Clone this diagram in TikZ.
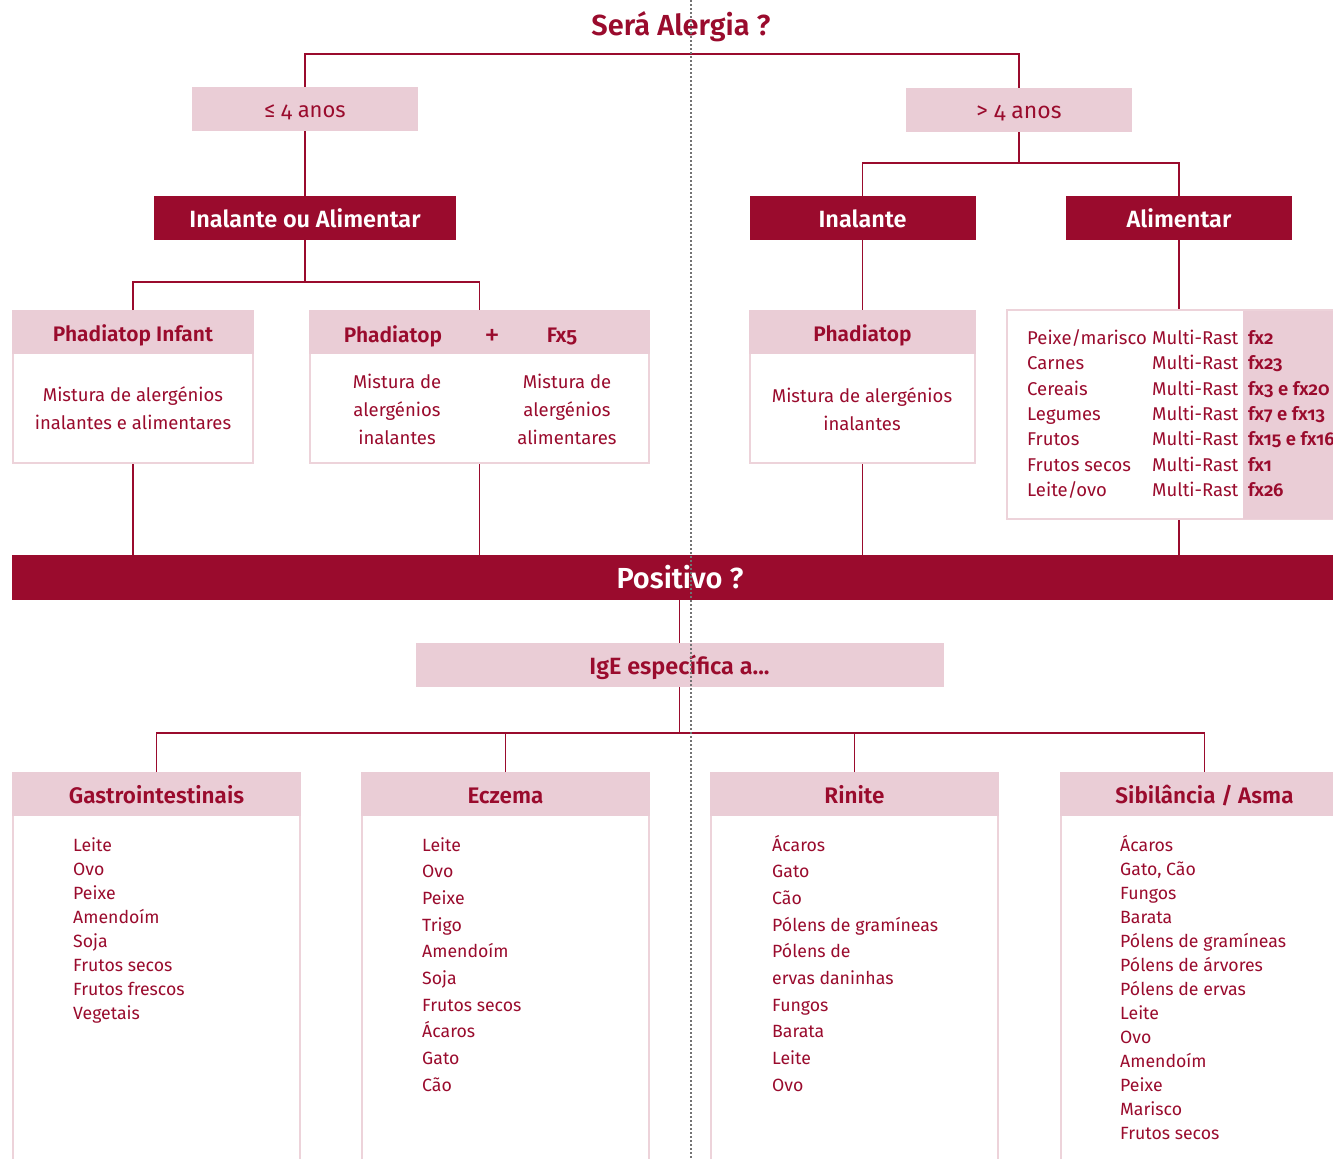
\documentclass[tikz,border=0pt]{standalone}
\usepackage{fontspec}
\setmainfont{Fira Sans}[Numbers=OldStyle, BoldFont={Fira Sans SemiBold}]
\definecolor{dred}{HTML}{9A0B2D}
\definecolor{lpink}{HTML}{EACDD6}
\definecolor{bpink}{HTML}{EDD3DA}
\begin{document}
\begin{tikzpicture}[x=1pt,y=-1pt,
  conn/.style={draw=dred, line width=1.3pt},
  pinkbox/.style={fill=lpink, text=dred, inner sep=0pt, text height=19pt, text depth=0pt, font=\bfseries\fontsize{21}{24}\selectfont},
  redbox/.style={fill=dred, text=white, inner sep=0pt, text height=19pt, text depth=0pt, font=\bfseries\fontsize{23.5}{26}\selectfont},
  agebox/.style={fill=lpink, text=dred, inner sep=0pt, text height=18pt, text depth=2pt, minimum width=226, minimum height=44},
  frame/.style={draw=bpink, line width=2pt, fill=white, inner sep=0pt},
  body/.style={text=dred, align=center, inner sep=0pt, font=\fontsize{18.5}{28}\selectfont},
  item/.style={text=dred, inner sep=0pt, anchor=base west, font=\fontsize{17.7}{22}\selectfont},
  hdtext/.style={text=dred, inner sep=0pt, text height=19pt, text depth=0pt, font=\bfseries\fontsize{21}{24}\selectfont},
  bhead/.style={pinkbox, minimum width=289, minimum height=44, anchor=north, font=\bfseries\fontsize{22.5}{26}\selectfont},
]
\clip (0,0) rectangle (1333,1159);
\fill[white] (0,0) rectangle (1333,1159);

% title
\node[text=dred, inner sep=0pt, font=\bfseries\fontsize{29}{34}\selectfont] (title) at (681,27) {Será Alergia ?};

% age boxes
\node[agebox, font=\fontsize{22}{24}\selectfont] (le4) at (305,109) {≤ 4 anos};
\node[agebox, font=\fontsize{23}{24}\selectfont] (gt4) at (1019,110) {> 4 anos};
\coordinate (topbar) at (662,54);
\draw[conn] (le4.north) |- (topbar) -| (gt4.north);

% second level
\node[redbox, minimum width=302, minimum height=44] (ioa) at (305,218) {Inalante ou Alimentar};
\node[redbox, minimum width=226, minimum height=44] (inal) at (862.5,218) {Inalante};
\node[redbox, minimum width=226, minimum height=44] (alim) at (1179,218) {Alimentar};
\draw[conn] (le4.south) -- (ioa.north);
\coordinate (gsplit) at (1019,163);
\draw[conn] (gt4.south) -- (gsplit);
\draw[conn] (inal.north) |- (gsplit) -| (alim.north);

% Phadiatop Infant
\node[frame, minimum width=240, minimum height=152] (pi) at (133,387) {};
\node[pinkbox, minimum width=242, minimum height=44, anchor=north] (pih) at (pi.north) {Phadiatop Infant};
\node[body] (pit) at (133,408) {Mistura de alergénios\\inalantes e alimentares};

% Phadiatop + Fx5
\node[frame, minimum width=339, minimum height=152] (pf) at (479.5,387) {};
\node[pinkbox, minimum width=341, minimum height=44, anchor=north] (pfh) at (pf.north) {};
\node[hdtext] (pfa) at (393,333) {Phadiatop};
\node[text=dred, inner sep=0pt, font=\fontsize{31}{32}\selectfont] (pfp) at (492,337.5) {+};
\node[hdtext] (pfb) at (562,333) {Fx5};
\node[body] (pft1) at (397,409) {Mistura de\\alergénios\\inalantes};
\node[body] (pft2) at (567,409) {Mistura de\\alergénios\\alimentares};

\coordinate (isplit) at (305,282);
\draw[conn] (ioa.south) -- (isplit);
\draw[conn] (pi.north) |- (isplit) -| (pf.north);

% Phadiatop (inalante)
\node[frame, minimum width=225, minimum height=152] (ph) at (862.5,387) {};
\node[pinkbox, minimum width=227, minimum height=44, anchor=north] (phh) at (ph.north) {Phadiatop};
\node[body] (pht) at (862,409) {Mistura de alergénios\\inalantes};
\draw[conn] (inal.south) -- (ph.north);

% Alimentar table
\node[frame, minimum width=338, minimum height=209] (tab) at (1176,414.5) {};
\node[fill=lpink, inner sep=0pt, minimum width=110, minimum height=208, anchor=north west] (tabcol) at (1243,310.5) {};
\draw[conn] (alim.south) -- (alim.south |- tab.north);
\foreach \a [count=\i from 0] in {Peixe/marisco, Carnes, Cereais, Legumes, Frutos, Frutos secos, Leite/ovo}
  \node[item, font=\fontsize{18.5}{22}\selectfont] (ta\i) at (1027,344.5+25.33*\i) {\a};
\foreach \i in {0,...,6}
  \node[item, font=\fontsize{18.5}{22}\selectfont] (tb\i) at (1152,344.5+25.33*\i) {Multi-Rast};
\foreach \c [count=\i from 0] in {fx2, fx23, fx3 e fx20, fx7 e fx13, fx15 e fx16, fx1, fx26}
  \node[item, font=\bfseries\fontsize{18.5}{22}\selectfont] (tc\i) at (1248,344.5+25.33*\i) {\c};

% Positivo band
\node[fill=dred, text=white, inner sep=0pt, minimum width=1336, minimum height=45, font=\bfseries\fontsize{29}{32}\selectfont] (pos) at (680,577.5) {Positivo ?};
\draw[conn] (pi.south) -- (pi.south |- pos.north);
\draw[conn] (pf.south) -- (pf.south |- pos.north);
\draw[conn] (ph.south) -- (ph.south |- pos.north);
\draw[conn] (alim.south |- tab.south) -- (alim.south |- pos.north);

% IgE
\node[pinkbox, minimum width=528, minimum height=44, font=\bfseries\fontsize{23.5}{26}\selectfont] (ige) at (679.5,665) {IgE específica a...};
\draw[conn] (ige.north) -- (ige.north |- pos.south);
\coordinate (bsplit) at (679.5,733);
\draw[conn] (ige.south) -- (bsplit);

% bottom boxes
\node[frame, minimum width=287, minimum height=405, anchor=north] (g) at (156.5,772) {};
\node[frame, minimum width=287, minimum height=405, anchor=north] (e) at (505.5,772) {};
\node[frame, minimum width=287, minimum height=405, anchor=north] (r) at (854.5,772) {};
\node[frame, minimum width=287, minimum height=405, anchor=north] (s) at (1204.5,772) {};
\node[bhead] (gh) at (g.north) {Gastrointestinais};
\node[bhead] (eh) at (e.north) {Eczema};
\node[bhead] (rh) at (r.north) {Rinite};
\node[bhead] (sh) at (s.north) {Sibilância / Asma};
\draw[conn] (g.north) |- (bsplit) -| (s.north);
\draw[conn] (e.north) -- (e.north |- bsplit);
\draw[conn] (r.north) -- (r.north |- bsplit);

\foreach \t [count=\i from 0] in {Leite, Ovo, Peixe, Amendoím, Soja, Frutos secos, Frutos frescos, Vegetais}
  \node[item] (gi\i) at (73,851+24*\i) {\t};
\foreach \t [count=\i from 0] in {Leite, Ovo, Peixe, Trigo, Amendoím, Soja, Frutos secos, Ácaros, Gato, Cão}
  \node[item] (ei\i) at (422,851+26.7*\i) {\t};
\foreach \t [count=\i from 0] in {Ácaros, Gato, Cão, Pólens de gramíneas, Pólens de, ervas daninhas, Fungos, Barata, Leite, Ovo}
  \node[item] (ri\i) at (772,851+26.7*\i) {\t};
\foreach \t [count=\i from 0] in {Ácaros, {Gato, Cão}, Fungos, Barata, Pólens de gramíneas, Pólens de árvores, Pólens de ervas, Leite, Ovo, Amendoím, Peixe, Marisco, Frutos secos}
  \node[item] (si\i) at (1120,851+24*\i) {\t};

% fold line
\coordinate (foldtop) at (691,0);
\coordinate (foldbot) at (691,1159);
\draw[black!55, line width=1.3pt, dash pattern=on 2pt off 2pt] (foldtop) -- (foldbot);
\end{tikzpicture}
\end{document}
